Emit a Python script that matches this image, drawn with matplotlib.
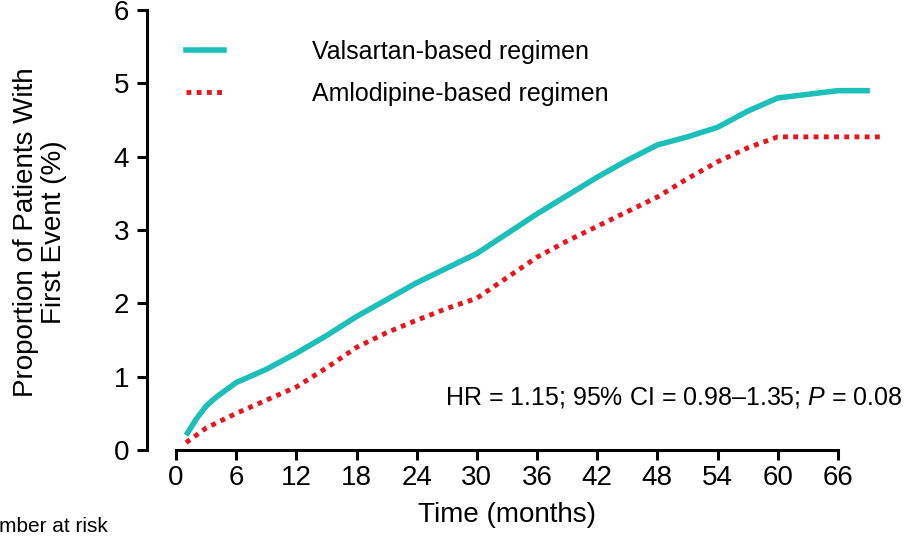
import numpy as np
import matplotlib
matplotlib.use("Agg")
import matplotlib.pyplot as plt
from matplotlib.lines import Line2D

plt.rcParams['font.family'] = ['Liberation Sans', 'DejaVu Sans']
plt.rcParams['mathtext.fontset'] = 'custom'
plt.rcParams['mathtext.rm'] = 'Liberation Sans'
plt.rcParams['mathtext.it'] = 'Liberation Sans:italic'

# cumulative incidence (months, %)
val_months = [1, 2, 3, 4, 6, 9, 12, 15, 18, 21, 24, 27, 30, 33, 36, 39, 42,
              45, 48, 51, 54, 57, 60, 63, 66, 69.2]
val_pct = [0.2, 0.42, 0.6, 0.72, 0.92, 1.1, 1.32, 1.56, 1.82, 2.05, 2.28,
           2.48, 2.68, 2.95, 3.22, 3.47, 3.72, 3.95, 4.16, 4.27, 4.4, 4.62,
           4.8, 4.85, 4.9, 4.9]

aml_months = [1, 3, 6, 9, 12, 15, 18, 21, 24, 27, 30, 33, 36, 39, 42, 45,
              48, 51, 54, 57, 60, 63, 66, 70.2]
aml_pct = [0.1, 0.3, 0.5, 0.68, 0.86, 1.12, 1.4, 1.6, 1.77, 1.93, 2.07,
           2.35, 2.63, 2.85, 3.05, 3.25, 3.45, 3.7, 3.93, 4.12, 4.27, 4.27,
           4.27, 4.27]

xticks = [0, 6, 12, 18, 24, 30, 36, 42, 48, 54, 60, 66]
yticks = [0, 1, 2, 3, 4, 5, 6]

teal = '#1cc0b8'
red = '#e8161c'

W, H = 911, 536
fig = plt.figure(figsize=(W / 100, H / 100), dpi=100)
ax = fig.add_axes([147 / W, (H - 450) / H, 751 / W, 440 / H])

ax.plot(val_months, val_pct, color=teal, lw=4.0, solid_capstyle='butt',
        solid_joinstyle='round')
ax.plot(aml_months, aml_pct, color=red, lw=3.5, linestyle=(0, (1.0, 1.1)),
        dash_capstyle='butt')

ax.set_xlim(-2.9, 72)
ax.set_ylim(0, 6)
ax.set_xticks(xticks)
ax.set_yticks(yticks)
ax.tick_params(labelsize=20, width=2.2, length=7, direction='out')
ax.tick_params(axis='x', pad=4)
ax.tick_params(axis='y', pad=6)

for s in ['top', 'right']:
    ax.spines[s].set_visible(False)
ax.spines['left'].set_linewidth(2.2)
ax.spines['bottom'].set_linewidth(2.2)
ax.spines['left'].set_bounds(0, 6)
ax.spines['bottom'].set_bounds(0, 66)

handles = [Line2D([], [], color=teal, lw=4.0),
           Line2D([], [], color=red, lw=3.5, linestyle=(0, (1.0, 1.1)))]
fig.legend(handles, ['Valsartan-based regimen', 'Amlodipine-based regimen'],
           loc='upper left', bbox_to_anchor=(186 / W, 1 - 40 / H),
           frameon=False, fontsize=18, handlelength=1.5, handletextpad=3.55,
           labelspacing=0.72, borderpad=0, borderaxespad=0)

fig.text(903 / W, 1 - 398 / H, 'HR = 1.15; 95% CI = 0.98\u20131.35; $P$ = 0.08',
         ha='right', va='center', fontsize=18)

fig.text(40 / W, 1 - 232 / H, 'Proportion of Patients With\nFirst Event (%)',
         rotation=90, ha='center', va='center', fontsize=20,
         multialignment='center', linespacing=1.1)
fig.text(507 / W, 1 - 515 / H, 'Time (months)', ha='center', va='center',
         fontsize=20)
fig.text(108 / W, 1 - 526 / H, 'Number at risk', ha='right', va='center',
         fontsize=15)

fig.savefig('out.png', dpi=100)
